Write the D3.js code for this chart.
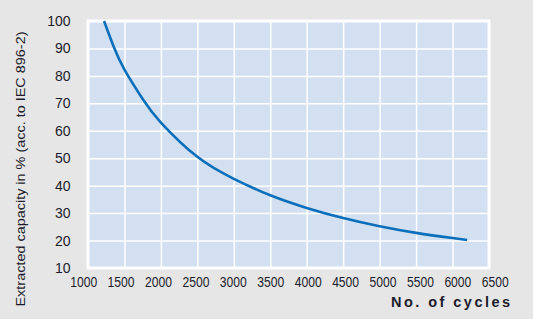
<!DOCTYPE html>
<html>
<head>
<meta charset="utf-8">
<script src="https://cdnjs.cloudflare.com/ajax/libs/d3/7.8.5/d3.min.js"></script>
<style>
  html, body { margin: 0; padding: 0; background: #e6e6e6; }
  svg { display: block; }
</style>
</head>
<body>
<div id="chart"></div>
<script>
// values
var cycles   = [1220, 1350, 1500, 1750, 2000, 2500, 3000, 3500, 4000, 4500, 5000, 5500, 6000, 6200];
var capacity = [100,  90.8, 82.3, 71.6, 63.0, 50.5, 42.5, 36.5, 31.9, 28.2, 25.2, 22.8, 20.9, 20.2];
var xTicks = [1000, 1500, 2000, 2500, 3000, 3500, 4000, 4500, 5000, 5500, 6000, 6500];
var yTicks = [10, 20, 30, 40, 50, 60, 70, 80, 90, 100];

var width = 533, height = 319;
var textColor = "#1c1c2c";

var svg = d3.select("#chart").append("svg")
    .attr("width", width)
    .attr("height", height)
    .style("background", "#e6e6e6");

var x = d3.scaleLinear().domain([1000, 6500]).range([88, 489]);
var y = d3.scaleLinear().domain([10, 100]).range([268, 21]);
// tick labels in the original sit a bit wider apart than the grid
var xLab = d3.scaleLinear().domain([1000, 6500]).range([83.7, 495.3]);

// plot panel
svg.append("rect")
    .attr("x", x(1000))
    .attr("y", y(100))
    .attr("width", x(6500) - x(1000))
    .attr("height", y(10) - y(100))
    .attr("fill", "#d3e0f1")
    .attr("stroke", "#ffffff")
    .attr("stroke-width", 3);

// grid
svg.append("g")
    .attr("transform", "translate(0," + y(10) + ")")
    .call(d3.axisBottom(x).tickValues(xTicks.slice(1, -1)).tickSize(-(y(10) - y(100))).tickFormat(""))
    .call(function (g) { g.select(".domain").remove(); })
    .selectAll("line")
    .attr("stroke", "#ffffff")
    .attr("stroke-width", 1.5);

svg.append("g")
    .attr("transform", "translate(" + x(1000) + ",0)")
    .call(d3.axisLeft(y).tickValues(yTicks.slice(1, -1)).tickSize(-(x(6500) - x(1000))).tickFormat(""))
    .call(function (g) { g.select(".domain").remove(); })
    .selectAll("line")
    .attr("stroke", "#ffffff")
    .attr("stroke-width", 1.5);

// curve
var line = d3.line()
    .x(function (d, i) { return x(cycles[i]); })
    .y(function (d) { return y(d); })
    .curve(d3.curveNatural);

svg.append("path")
    .datum(capacity)
    .attr("d", line)
    .attr("fill", "none")
    .attr("stroke", "#0a6fba")
    .attr("stroke-width", 2.6);

// tick labels
svg.append("g").selectAll("text")
    .data(xTicks)
    .enter().append("text")
    .attr("x", function (d) { return xLab(d); })
    .attr("y", 287)
    .attr("text-anchor", "middle")
    .attr("font-family", "Liberation Sans, Arial, sans-serif")
    .attr("font-size", 14)
    .attr("textLength", 27)
    .attr("lengthAdjust", "spacingAndGlyphs")
    .attr("fill", textColor)
    .text(function (d) { return d; });

svg.append("g").selectAll("text")
    .data(yTicks)
    .enter().append("text")
    .attr("x", 70.5)
    .attr("y", function (d) { return y(d); })
    .attr("dy", "0.36em")
    .attr("text-anchor", "end")
    .attr("font-family", "Liberation Sans, Arial, sans-serif")
    .attr("font-size", 14)
    .attr("fill", textColor)
    .text(function (d) { return d; });

// axis titles
svg.append("text")
    .attr("transform", "translate(24.5,169) rotate(-90)")
    .attr("text-anchor", "middle")
    .attr("font-family", "Liberation Sans, Arial, sans-serif")
    .attr("font-size", 13)
    .attr("textLength", 275)
    .attr("lengthAdjust", "spacingAndGlyphs")
    .attr("fill", textColor)
    .text("Extracted capacity  in % (acc. to IEC 896-2)");

svg.append("text")
    .attr("x", 391)
    .attr("y", 307.3)
    .attr("font-family", "Liberation Sans, Arial, sans-serif")
    .attr("font-size", 14.5)
    .attr("font-weight", "bold")
    .attr("textLength", 119)
    .attr("lengthAdjust", "spacing")
    .attr("fill", textColor)
    .text("No. of cycles");
</script>
</body>
</html>
